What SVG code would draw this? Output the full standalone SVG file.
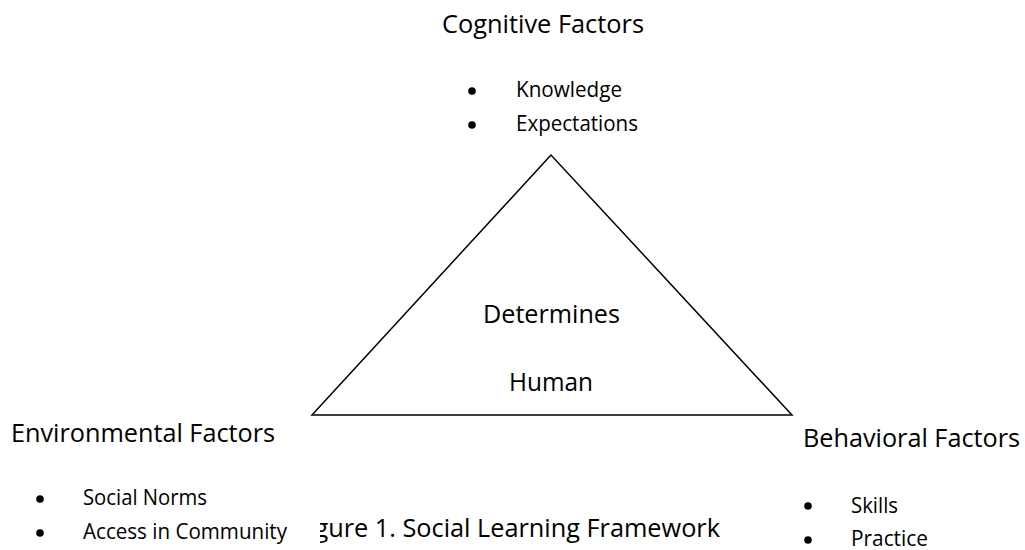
<svg xmlns="http://www.w3.org/2000/svg" width="1025" height="550" viewBox="0 0 1025 550">
<style>
  text { font-family: "Open Sans", "Noto Sans", "Liberation Sans", sans-serif; fill: #000; }
  .h { font-size: 26px; }
  .i { font-size: 21px; }
  .b { fill: #000; }
  .tri { fill: none; stroke: #000; stroke-width: 1.5; stroke-linejoin: miter; }
</style>
<rect width="1025" height="550" fill="#fff"/>

<g id="triangle">
  <polygon class="tri" points="551,155 312,415 792,415"/>
  <text class="h" x="483" y="323" textLength="137" lengthAdjust="spacingAndGlyphs">Determines</text>
  <text class="h" x="509" y="391" textLength="84" lengthAdjust="spacingAndGlyphs">Human</text>
</g>

<g id="cognitive">
  <text class="h" x="442" y="33" textLength="202" lengthAdjust="spacingAndGlyphs">Cognitive Factors</text>
  <circle class="b" cx="472" cy="91" r="3.8"/>
  <text class="i" x="516" y="97" textLength="106" lengthAdjust="spacingAndGlyphs">Knowledge</text>
  <circle class="b" cx="472" cy="125" r="3.8"/>
  <text class="i" x="516" y="131" textLength="122" lengthAdjust="spacingAndGlyphs">Expectations</text>
</g>

<g id="caption">
  <text class="h" x="295" y="537" textLength="425" lengthAdjust="spacingAndGlyphs">Figure 1. Social Learning Framework</text>
</g>

<g id="environmental">
  <rect x="0" y="513" width="320" height="37" fill="#fff"/>
  <text class="h" x="11" y="442" textLength="264" lengthAdjust="spacingAndGlyphs">Environmental Factors</text>
  <circle class="b" cx="40" cy="499" r="3.8"/>
  <text class="i" x="83" y="505" textLength="124" lengthAdjust="spacingAndGlyphs">Social Norms</text>
  <circle class="b" cx="40" cy="533" r="3.8"/>
  <text class="i" x="83" y="539" textLength="204" lengthAdjust="spacingAndGlyphs">Access in Community</text>
</g>

<g id="behavioral">
  <text class="h" x="803" y="447" textLength="217" lengthAdjust="spacingAndGlyphs">Behavioral Factors</text>
  <circle class="b" cx="808" cy="506" r="3.8"/>
  <text class="i" x="851" y="513" textLength="47" lengthAdjust="spacingAndGlyphs">Skills</text>
  <circle class="b" cx="808" cy="540" r="3.8"/>
  <text class="i" x="851" y="546" textLength="77" lengthAdjust="spacingAndGlyphs">Practice</text>
</g>

<g id="connectors"></g>
</svg>
